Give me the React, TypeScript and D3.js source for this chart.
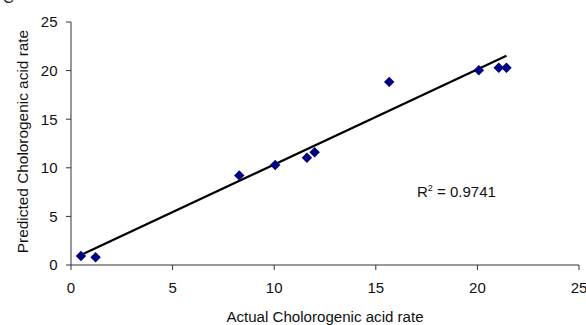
import React from "react";
import * as d3 from "d3";

const actual = [0.49, 1.21, 8.28, 10.05, 11.61, 11.99, 15.66, 20.07, 21.05, 21.43];
const predicted = [0.92, 0.79, 9.22, 10.28, 11.03, 11.6, 18.84, 20.04, 20.3, 20.3];
const xTicks = [0, 5, 10, 15, 20, 25];
const yTicks = [0, 5, 10, 15, 20, 25];
const trendSlope = [0.979];
const trendIntercept = [0.55];
const rSquared = ["0.9741"];
const xTitle = "Actual Cholorogenic acid rate";
const yTitle = "Predicted Cholorogenic acid rate";

export default function App() {
  const W = 586, H = 325;
  const x = d3.scaleLinear().domain([0, 25]).range([71, 579]);
  const y = d3.scaleLinear().domain([0, 25]).range([265, 22]);
  const font = "'Liberation Sans', Arial, sans-serif";
  const x0 = d3.min(actual) as number;
  const x1 = d3.max(actual) as number;
  const line = d3.line<number>().x((d) => x(d)).y((d) => y(trendIntercept[0] + trendSlope[0] * d));
  const diamond = d3.symbol().type(d3.symbolDiamond2).size(70)() as string;
  const axisColor = "#333";
  return (
    <svg width={W} height={H} style={{ position: "absolute", left: 0, top: 0, background: "#fff" }} fontFamily={font}>
      <text x={3} y={3} fontSize={15} fill="#222">C</text>
      {/* axes */}
      <line x1={x(0)} x2={x(0)} y1={y(25)} y2={y(0)} stroke={axisColor} strokeWidth={1} />
      <line x1={x(0)} x2={x(25)} y1={y(0)} y2={y(0)} stroke={axisColor} strokeWidth={1} />
      {yTicks.map((t) => (
        <g key={"y" + t}>
          <line x1={x(0) - 5} x2={x(0)} y1={y(t)} y2={y(t)} stroke={axisColor} />
          <text x={57.5} y={y(t)} dy="0.36em" textAnchor="end" fontSize={15} fill="#111">{t}</text>
        </g>
      ))}
      {xTicks.map((t) => (
        <g key={"x" + t}>
          <line x1={x(t)} x2={x(t)} y1={y(0)} y2={y(0) + 5} stroke={axisColor} />
          <text x={x(t)} y={293} textAnchor="middle" fontSize={15} fill="#111">{t}</text>
        </g>
      ))}
      <text x={325} y={321.5} textAnchor="middle" fontSize={15.1} fill="#111">{xTitle}</text>
      <text transform={`translate(28.3,141.5) rotate(-90)`} textAnchor="middle" fontSize={15.4} fill="#111">{yTitle}</text>
      {/* trendline */}
      <path d={line([x0, x1]) as string} stroke="#000" strokeWidth={2.2} fill="none" />
      {/* points */}
      {actual.map((a, i) => (
        <path key={i} d={diamond} transform={`translate(${x(a)},${y(predicted[i])})`} fill="#000080" />
      ))}
      <text x={417} y={196.7} fontSize={15} fill="#111">
        R<tspan fontSize={9} dy={-6}>2</tspan><tspan dy={6}> = {rSquared[0]}</tspan>
      </text>
    </svg>
  );
}
